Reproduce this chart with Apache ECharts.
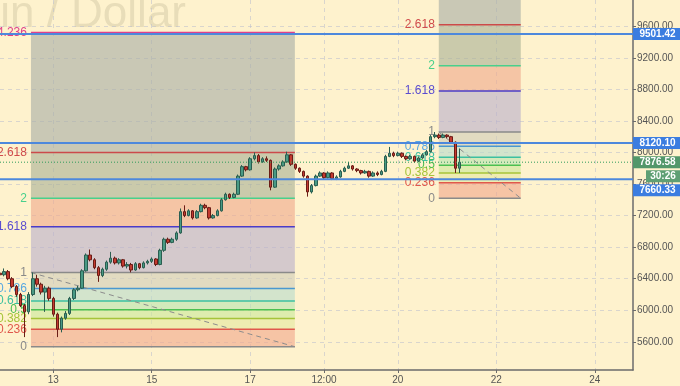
<!DOCTYPE html>
<html><head><meta charset="utf-8">
<script src="https://cdn.jsdelivr.net/npm/echarts@6/dist/echarts.min.js"></script>
<style>html,body{margin:0;padding:0;background:#fef2cd;}#c{width:680px;height:386px;}</style>
</head><body><div id="c"></div>
<script>
// ---------- data ----------
const chartTitle = 'Bitcoin / Dollar';
const firstBarDay = 11 + 22 / 24;   // Nov 11, 22:00
const barStepDays = 2 / 24;         // 2-hour candles
// [open, close, low, high]
const candles = [
[6470,6450,6420,6520],[6450,6490,6430,6530],[6490,6400,6380,6510],[6400,6300,6280,6420],[6300,6200,6170,6320],
[6200,6060,6040,6220],[6060,5980,5660,6080],[5980,6200,5950,6230],[6200,6400,6180,6480],[6400,6330,6300,6450],
[6330,6230,6200,6350],[6230,6280,5980,6310],[6280,6150,6120,6300],[6150,5950,5920,6170],[5950,5760,5660,5970],
[5760,5900,5720,5920],[5900,5960,5880,5990],[5960,6150,5940,6170],[6150,6260,6130,6280],[6260,6280,6240,6310],
[6280,6500,6270,6520],[6500,6700,6490,6720],[6700,6640,6620,6770],[6640,6540,6520,6660],[6540,6440,6360,6560],
[6440,6520,6420,6540],[6520,6610,6500,6630],[6610,6660,6590,6740],[6660,6600,6580,6680],[6600,6640,6580,6660],
[6640,6560,6540,6650],[6560,6580,6530,6610],[6580,6510,6480,6600],[6510,6590,6500,6610],[6590,6540,6520,6600],
[6540,6600,6530,6620],[6600,6620,6580,6640],[6620,6650,6600,6670],[6650,6580,6560,6660],[6580,6760,6570,6780],
[6760,6900,6740,6920],[6900,6860,6840,6920],[6860,6900,6850,6920],[6900,6980,6880,7000],[6980,7250,6970,7290],
[7250,7200,7180,7330],[7200,7260,7190,7280],[7260,7170,7150,7270],[7170,7250,7160,7270],[7250,7330,7240,7350],
[7330,7300,7280,7350],[7300,7170,7150,7310],[7170,7200,7160,7220],[7200,7260,7190,7280],[7260,7400,7250,7420],
[7400,7470,7390,7490],[7470,7430,7410,7480],[7430,7470,7420,7490],[7470,7700,7460,7720],[7700,7820,7690,7840],
[7820,7780,7760,7830],[7780,7920,7770,7940],[7920,7960,7900,8000],[7960,7880,7860,7980],[7880,7920,7870,7940],
[7920,7900,7880,7950],[7900,7560,7520,7910],[7560,7790,7550,7810],[7790,7830,7770,7850],[7830,7880,7820,7900],
[7880,7970,7870,8010],[7970,7850,7830,7980],[7850,7800,7780,7860],[7800,7760,7740,7810],[7760,7700,7680,7770],
[7700,7500,7440,7710],[7500,7580,7480,7600],[7580,7700,7570,7720],[7700,7740,7690,7760],[7740,7680,7660,7750],
[7680,7740,7670,7760],[7740,7670,7650,7750],[7670,7690,7650,7710],[7690,7760,7680,7780],[7760,7800,7750,7820],
[7800,7830,7790,7880],[7830,7790,7770,7840],[7790,7770,7750,7800],[7770,7740,7720,7780],[7740,7760,7730,7780],
[7760,7700,7680,7770],[7700,7740,7690,7760],[7740,7720,7700,7760],[7720,7760,7710,7780],[7760,7950,7750,7970],
[7950,7990,7940,8070],[7990,7960,7940,8010],[7960,7990,7950,8010],[7990,7950,7930,8000],[7950,7920,7900,7960],
[7920,7950,7910,7970],[7950,7890,7870,7960],[7890,7930,7880,7950],[7930,7970,7920,7990],[7970,8010,7960,8030],
[8010,8200,8000,8220],[8200,8220,8180,8259],[8220,8190,8170,8240],[8190,8220,8180,8240],[8220,8200,8180,8230],
[8200,8130,8110,8210],[8130,7800,7740,8140],[7800,7876.58,7740,8050]
];
const xTickValues = [13, 15, 17, 18.5, 20, 22, 24];
const xTickLabels = ['13', '15', '17', '12:00', '20', '22', '24'];
const yTickValues = [5600, 6000, 6400, 6800, 7200, 7600, 8000, 8400, 8800, 9200, 9600];
// Fibonacci retracements (anchor days and prices)
const fibStart = [12.547, 20.832];
const fibEnd = [17.908, 22.497];
const fibLow = [5538, 7419];
const fibHigh = [6478, 8259];
const fibLevels = [0, 0.236, 0.382, 0.5, 0.618, 0.786, 1, 1.618, 2, 2.618, 4.236];
const fibLabels = ['0', '0.236', '0.382', '0.5', '0.618', '0.786', '1', '1.618', '2', '2.618', '4.236'];
const keyLevels = [9501.42, 8120.10, 7660.33];
const lastPrice = 7876.58;
const countdown = '30:26';
const xMin = 11.918, xMax = 24.777, yMin = 5243, yMax = 9932;

// ---------- styles ----------
const FONT = '"Liberation Sans", Arial, sans-serif';
const levelColors = ['#8a8a8a','#e0584c','#a6c43a','#4cc050','#3cc0a0','#4a98d0','#8a8a8a','#4b3cc8','#48d08c','#cc4a4a','#e0408a'];
const labelColors = ['#8a8a8a','#e0584c','#a6c43a','#4cc050','#3cc0a0','#5aa8e0','#8a8a8a','#5a4cd0','#48d08c','#d04c4c','#e0408a'];
const zoneColors = [
  'rgba(240,168,140,0.62)','rgba(227,232,160,0.62)','rgba(201,232,155,0.62)','rgba(184,229,176,0.62)',
  'rgba(184,219,203,0.62)','rgba(208,205,186,0.62)','rgba(186,176,204,0.62)','rgba(239,170,140,0.62)',
  'rgba(170,178,150,0.62)','rgba(168,174,166,0.62)'
];

function renderFib(params, api) {
  const x0 = api.value(0), x1 = api.value(1), lo = api.value(2), hi = api.value(3);
  const d = hi - lo;
  const left = api.coord([x0, lo])[0], right = api.coord([x1, lo])[0];
  const ys = fibLevels.map(l => api.coord([x0, lo + d * l])[1]);
  const children = [];
  for (let j = 0; j < ys.length - 1; j++) {
    children.push({type: 'rect', shape: {x: left, y: ys[j + 1], width: right - left, height: ys[j] - ys[j + 1]},
      style: {fill: zoneColors[j]}});
  }
  ys.forEach((y, j) => {
    children.push({type: 'line', shape: {x1: left, y1: y, x2: right, y2: y},
      style: {stroke: levelColors[j], lineWidth: 1.5}});
  });
  const p0 = api.coord([x0, hi]), p1 = api.coord([x1, lo]);
  children.push({type: 'line', shape: {x1: p0[0], y1: p0[1], x2: p1[0], y2: p1[1]},
    style: {stroke: '#8c8c8c', lineWidth: 1, lineDash: [5, 4]}});
  ys.forEach((y, j) => {
    children.push({type: 'text', x: left - 4, y: y,
      style: {text: fibLabels[j], fill: labelColors[j], font: '12px ' + FONT, align: 'right', verticalAlign: 'middle'}});
  });
  return {type: 'group', children};
}

function renderHLine(params, api) {
  const v = api.value(1);
  const a = api.coord([xMin, v]), b = api.coord([xMax, v]);
  const isLast = params.dataIndex === keyLevels.length;
  return {type: 'line', shape: {x1: a[0], y1: a[1], x2: b[0], y2: b[1]},
    style: isLast ? {stroke: '#2f9a5a', lineWidth: 1, lineDash: [1, 2]} : {stroke: '#4d88dc', lineWidth: 2}};
}

function renderTags(params, api) {
  const right = api.coord([xMax, yMin])[0];
  const H = 12, GAP = 2;
  const tags = keyLevels.map(v => ({v, text: v.toFixed(2), fill: '#3b7de0'}));
  tags.push({v: lastPrice, text: lastPrice.toFixed(2), fill: '#52976a', sub: countdown});
  tags.forEach(t => { t.y = api.coord([xMax, t.v])[1] - H / 2; t.h = t.sub ? 2 * H + GAP : H; });
  tags.sort((a, b) => a.y - b.y);
  for (let i = 1; i < tags.length; i++) {
    const prev = tags[i - 1];
    if (tags[i].y < prev.y + prev.h + GAP) tags[i].y = prev.y + prev.h + GAP;
  }
  const children = [];
  tags.forEach(t => {
    children.push({type: 'rect', shape: {x: right, y: t.y, width: 680 - right, height: H}, style: {fill: t.fill}});
    children.push({type: 'text', x: (right + 680) / 2 + 1, y: t.y + H / 2 + 0.5,
      style: {text: t.text, fill: '#ffffff', font: 'bold 10px ' + FONT, align: 'center', verticalAlign: 'middle'}});
    if (t.sub) {
      const sy = t.y + H + GAP;
      children.push({type: 'rect', shape: {x: right + 13, y: sy, width: 680 - right - 13, height: H}, style: {fill: '#5f9f74'}});
      children.push({type: 'text', x: (right + 13 + 680) / 2, y: sy + H / 2 + 0.5,
        style: {text: t.sub, fill: '#ffffff', font: 'bold 10px ' + FONT, align: 'center', verticalAlign: 'middle'}});
    }
  });
  return {type: 'group', children};
}

const chart = echarts.init(document.getElementById('c'), null, {renderer: 'canvas'});
chart.setOption({
  animation: false,
  backgroundColor: '#fef2cd',
  grid: {left: 0, right: 47, top: 0, bottom: 16, containLabel: false, outerBoundsMode: 'none'},
  graphic: [{
    type: 'text', x: 186, y: 15, z: 0,
    style: {text: chartTitle, font: '44px ' + FONT, fill: 'rgba(120,110,80,0.16)', align: 'right', verticalAlign: 'middle'}
  }],
  xAxis: {
    type: 'value', min: xMin, max: xMax,
    axisLine: {show: true, onZero: false, lineStyle: {color: '#6b6b6b', width: 1.5}},
    axisTick: {show: true, length: 3, customValues: xTickValues, lineStyle: {color: '#6b6b6b'}},
    axisLabel: {customValues: xTickValues, margin: 5, color: '#555', fontSize: 10, fontFamily: FONT,
      formatter: v => xTickLabels[xTickValues.indexOf(v)]},
    splitLine: {show: true, lineStyle: {color: 'rgba(185,190,205,0.55)', type: [4, 4], width: 1}}
  },
  yAxis: {
    type: 'value', position: 'right', min: yMin, max: yMax,
    axisLine: {show: true, lineStyle: {color: '#6b6b6b', width: 1.5}},
    axisTick: {show: true, length: 3, customValues: yTickValues, lineStyle: {color: '#6b6b6b'}},
    axisLabel: {customValues: yTickValues, margin: 4, color: '#555', fontSize: 10, fontFamily: FONT,
      formatter: v => v.toFixed(2)},
    splitLine: {show: true, lineStyle: {color: 'rgba(185,190,205,0.55)', type: [4, 4], width: 1}}
  },
  series: [
    {type: 'custom', name: 'fib', z: 1, clip: true, renderItem: renderFib,
      data: fibStart.map((s, i) => [s, fibEnd[i], fibLow[i], fibHigh[i]]),
      encode: {x: [0, 1], y: [2, 3]}, silent: true},
    {type: 'candlestick', name: 'BTCUSD', z: 3, barWidth: 3,
      dimensions: ['t', 'open', 'close', 'lowest', 'highest'],
      encode: {x: 't', y: ['open', 'close', 'lowest', 'highest']},
      data: candles.map((c, i) => [firstBarDay + i * barStepDays, c[0], c[1], c[2], c[3]]),
      itemStyle: {color: '#4a9a84', color0: '#c43a30', borderColor: '#2a5e50', borderColor0: '#6a1c16', borderWidth: 1}},
    {type: 'custom', name: 'levels', z: 5, clip: true, renderItem: renderHLine,
      data: keyLevels.concat([lastPrice]).map(v => [xMin, v]), encode: {x: 0, y: 1}, silent: true},
    {type: 'custom', name: 'tags', z: 10, clip: false, renderItem: renderTags,
      data: [[xMax, lastPrice]], encode: {x: 0, y: 1}, silent: true}
  ]
});
</script>
</body></html>
